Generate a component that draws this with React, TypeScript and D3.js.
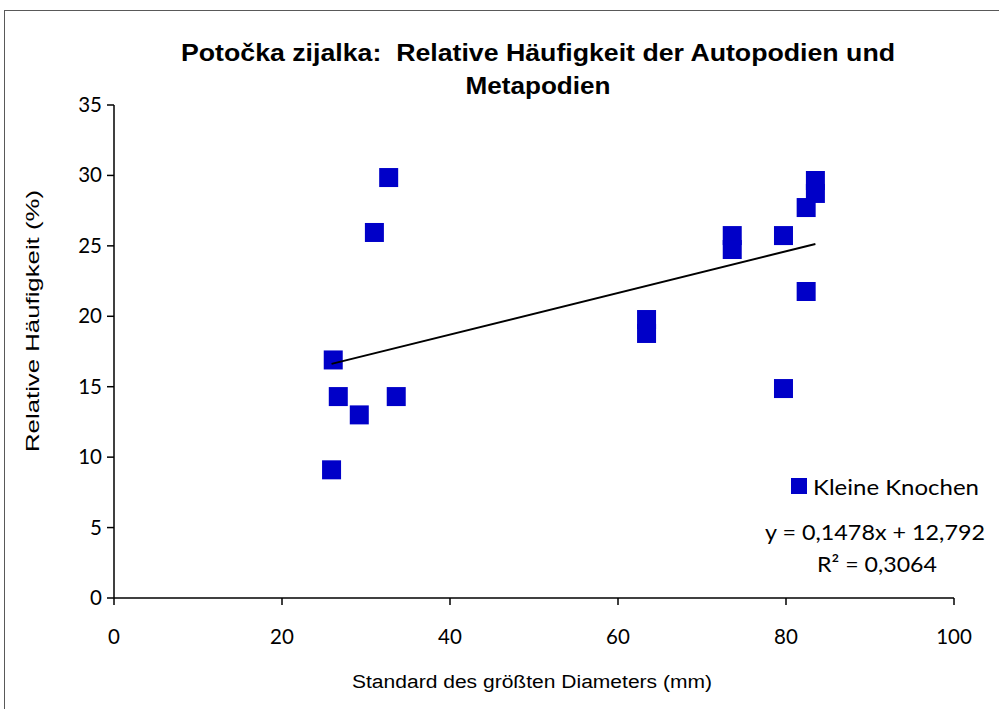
import React from "react";
import * as d3 from "d3";

const xValues = [26.1, 26.7, 33.6, 29.2, 25.9, 32.7, 31.0, 63.4, 63.4, 73.6, 73.6, 79.7, 82.4, 83.5, 83.5, 82.4, 79.7];
const yValues = [16.9, 14.3, 14.3, 13.0, 9.1, 29.85, 25.95, 19.77, 18.78, 25.73, 24.74, 25.73, 27.72, 29.64, 28.72, 21.76, 14.87];
const xTicks = [0, 20, 40, 60, 80, 100];
const yTicks = [0, 5, 10, 15, 20, 25, 30, 35];
const slope = 0.1478;
const intercept = 12.792;
const seriesName = "Kleine Knochen";
const equationText = "y = 0,1478x + 12,792";
const r2Text = "R² = 0,3064";
const titleLines = ["Potočka zijalka:  Relative Häufigkeit der Autopodien und", "Metapodien"];
const xTitle = "Standard des größten Diameters (mm)";
const yTitle = "Relative Häufigkeit (%)";

export default function App() {
  const x = d3.scaleLinear().domain([0, 100]).range([114, 954]);
  const y = d3.scaleLinear().domain([0, 35]).range([598, 105]);
  const ms = 19;
  const blue = "#0000c8";
  const tickFont = "Lato, 'Noto Sans', sans-serif";
  const arial = "'Liberation Sans', Arial, sans-serif";
  const [xmin, xmax] = d3.extent(xValues) as [number, number];
  const line = d3.line<number>().x((d) => x(d)).y((d) => y(slope * d + intercept));
  const pre = { whiteSpace: "pre" as const };
  return (
    <svg width={999} height={709} style={{ position: "absolute", left: 0, top: 0, background: "#fff" }}>
      <rect x={0} y={0} width={999} height={709} fill="#fff" />
      <rect x={4.5} y={10.5} width={1100} height={800} fill="#fff" stroke="#595959" strokeWidth={1} />
      <text x={538} y={61} textAnchor="middle" fontFamily={arial} fontWeight="bold" fontSize={23} fill="#000"
        textLength={714} lengthAdjust="spacingAndGlyphs" style={pre}>
        {titleLines[0]}
      </text>
      <text x={538} y={94} textAnchor="middle" fontFamily={arial} fontWeight="bold" fontSize={23} fill="#000"
        textLength={145} lengthAdjust="spacingAndGlyphs">
        {titleLines[1]}
      </text>
      {/* axes */}
      <line x1={x(0)} x2={x(0)} y1={y(35)} y2={y(0)} stroke="#000" strokeWidth={1.5} />
      <line x1={x(0)} x2={x(100)} y1={y(0)} y2={y(0)} stroke="#000" strokeWidth={1.5} />
      {yTicks.map((t) => (
        <g key={"y" + t}>
          <line x1={x(0) - 7} x2={x(0)} y1={y(t)} y2={y(t)} stroke="#000" strokeWidth={1.5} />
          <text x={102} y={y(t) + 7} textAnchor="end" fontFamily={tickFont} fontSize={20.5} fill="#000">
            {t}
          </text>
        </g>
      ))}
      {xTicks.map((t) => (
        <g key={"x" + t}>
          <line x1={x(t)} x2={x(t)} y1={y(0)} y2={y(0) + 7} stroke="#000" strokeWidth={1.5} />
          <text x={x(t)} y={644} textAnchor="middle" fontFamily={tickFont} fontSize={20.5} fill="#000">
            {t}
          </text>
        </g>
      ))}
      <text x={532} y={688} textAnchor="middle" fontFamily={arial} fontSize={18} fill="#000"
        textLength={360} lengthAdjust="spacingAndGlyphs">
        {xTitle}
      </text>
      <text transform="translate(39,321) rotate(-90)" textAnchor="middle" fontFamily={arial} fontSize={18} fill="#000"
        textLength={262} lengthAdjust="spacingAndGlyphs">
        {yTitle}
      </text>
      {/* points */}
      {xValues.map((xv, i) => (
        <rect key={i} x={x(xv) - ms / 2} y={y(yValues[i]) - ms / 2} width={ms} height={ms} fill={blue} />
      ))}
      {/* trend line */}
      <path d={line([xmin, xmax]) || ""} stroke="#000" strokeWidth={2} fill="none" />
      {/* legend */}
      <rect x={791} y={478} width={16} height={16} fill={blue} />
      <text x={813} y={495} fontFamily={tickFont} fontSize={22} fill="#000" textLength={166} lengthAdjust="spacingAndGlyphs">
        {seriesName}
      </text>
      <text x={875} y={540} textAnchor="middle" fontFamily={tickFont} fontSize={22} fill="#000"
        textLength={220} lengthAdjust="spacingAndGlyphs">
        {equationText}
      </text>
      <text x={877} y={572} textAnchor="middle" fontFamily={tickFont} fontSize={22} fill="#000"
        textLength={120} lengthAdjust="spacingAndGlyphs">
        {r2Text}
      </text>
    </svg>
  );
}
